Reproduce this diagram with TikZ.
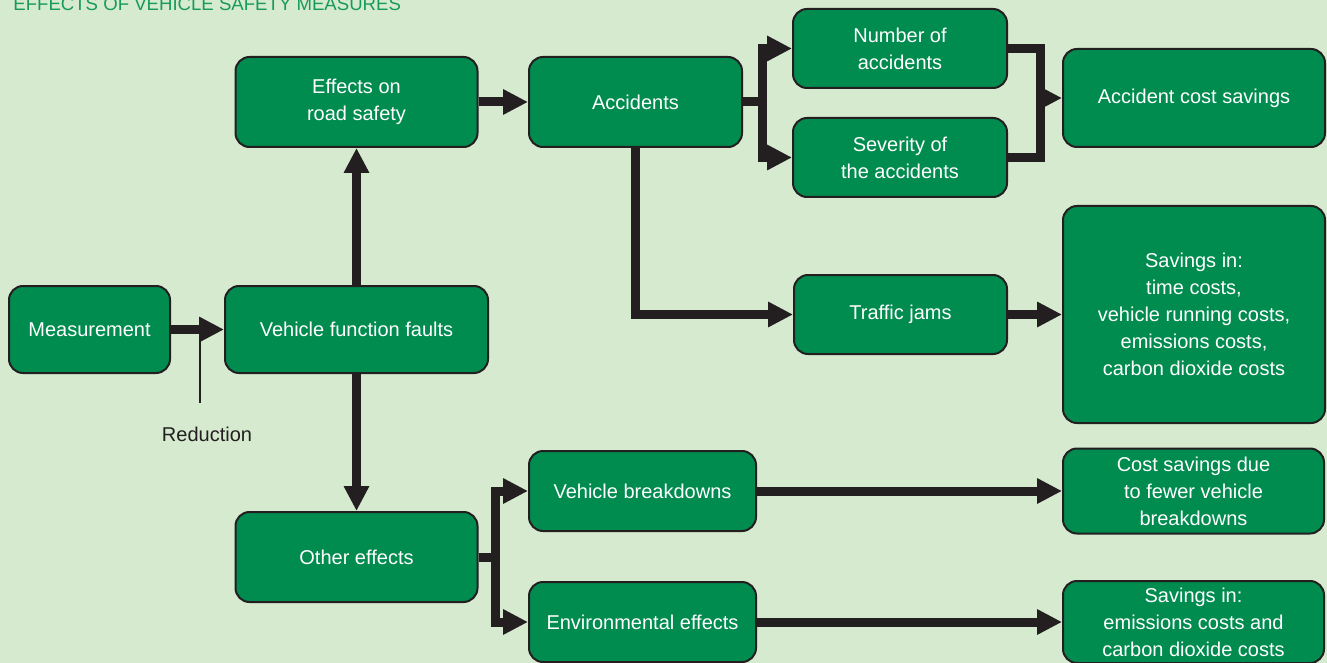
\documentclass[tikz,border=0pt]{standalone}
\usepackage{fontspec}
\setmainfont{Liberation Sans}
\usetikzlibrary{arrows.meta}

\definecolor{bgcol}{RGB}{214,234,208}
\definecolor{boxcol}{RGB}{0,139,79}
\definecolor{ink}{RGB}{35,31,32}
\definecolor{titlecol}{RGB}{24,154,92}

\begin{document}
\begin{tikzpicture}[x=0.5pt, y=-0.5pt,
  box/.style={draw=ink, line width=1pt, fill=boxcol, rounded corners=7pt, text=white,
    align=center, inner sep=0pt, font=\fontsize{10pt}{13.5pt}\selectfont},
  line/.style={line width=4.5pt, draw=ink, >={Triangle[length=12.5pt,width=12pt]}}]
\fill[bgcol] (0,0) rectangle (1327,663);
\useasboundingbox (0,0) rectangle (1327,663);

\node[anchor=base west, inner sep=0pt, text=titlecol, font=\fontsize{9.3pt}{11pt}\selectfont]
  (title) at (13,11) {EFFECTS OF VEHICLE SAFETY MEASURES};

% left column
\node[box, minimum width=80.5pt, minimum height=43.5pt] (meas) at (89.5,329.5) {Measurement};
\node[box, minimum width=131.5pt, minimum height=43.5pt] (vff) at (356.5,329.5) {Vehicle function faults};
\node[box, minimum width=121pt, minimum height=45pt] (road) at (356.5,102) {Effects on\\road safety};
\node[box, minimum width=121pt, minimum height=45pt] (oth) at (356.5,557) {Other effects};

% accidents branch
\node[box, minimum width=106.5pt, minimum height=45pt] (acc) at (635.5,102) {Accidents};
\node[box, minimum width=107pt, minimum height=39.5pt] (num) at (900,48.5) {Number of\\accidents};
\node[box, minimum width=107pt, minimum height=39.5pt] (sev) at (900,157.5) {Severity of\\the accidents};
\node[box, minimum width=131pt, minimum height=49pt] (acs) at (1194,98) {Accident cost savings};
\node[box, minimum width=106.5pt, minimum height=39.5pt] (jam) at (900.5,314.5) {Traffic jams};
\node[box, minimum width=131pt, minimum height=108.5pt] (big) at (1194,314.5)
  {Savings in:\\time costs,\\vehicle running costs,\\emissions costs,\\carbon dioxide costs};

% other effects branch
\node[box, minimum width=113.5pt, minimum height=40pt] (vbd) at (642.5,491) {Vehicle breakdowns};
\node[box, minimum width=113.5pt, minimum height=40pt] (env) at (642.5,622) {Environmental effects};
\node[box, minimum width=130.5pt, minimum height=42.5pt] (cfb) at (1193.5,491)
  {Cost savings due\\to fewer vehicle\\breakdowns};
\node[box, minimum width=130.5pt, minimum height=41pt] (sem) at (1193.5,622)
  {Savings in:\\emissions costs and\\carbon dioxide costs};

\node[text=ink, inner sep=0pt, font=\fontsize{10pt}{12pt}\selectfont] (red) at (207,434) {Reduction};

\coordinate (redtop) at (200,329.5);
\coordinate (redend) at (200,403);
\coordinate (split) at (762,102);
\coordinate (join) at (1040,98);
\coordinate (fork) at (495,557);

\draw[->, line] (meas) -- (vff);
\draw[ink, line width=0.6pt] (redtop) -- (redend);
\draw[->, line] (vff) -- (road);
\draw[->, line] (vff) -- (oth);
\draw[->, line] (road) -- (acc);

\draw[->, line] (acc.east) -- (split) |- (num);
\draw[->, line] (split) |- (sev);
\draw[line] (num.east) -| (join) |- (sev.east);
\draw[->, line] (join) -- (join -| acs.west);
\draw[->, line] (acc) |- (jam);
\draw[->, line] (jam) -- (big);

\draw[->, line] (oth.east) -- (fork) |- (vbd);
\draw[->, line] (fork) |- (env);
\draw[->, line] (vbd) -- (cfb);
\draw[->, line] (env) -- (sem);

\end{tikzpicture}
\end{document}
